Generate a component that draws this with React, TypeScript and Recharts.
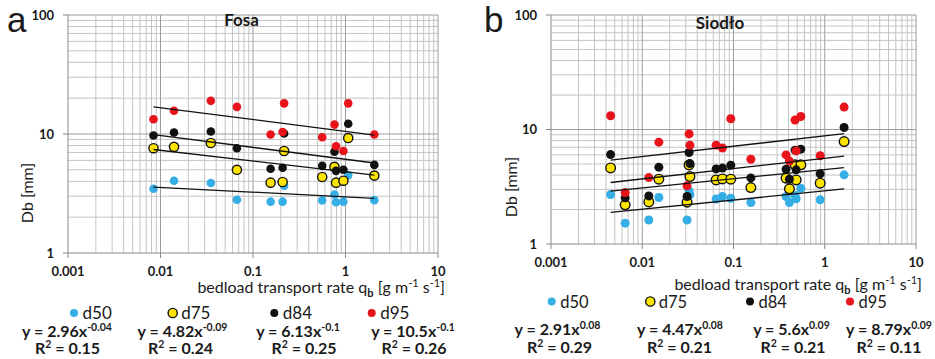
import { ScatterChart, Scatter, XAxis, YAxis, CartesianGrid } from 'recharts'

// grain size percentiles, one array per percentile, indexed by sample
const seriesNames = ['d50', 'd75', 'd84', 'd95']

// Fosa: bedload transport rate qb [g m-1 s-1] and Db [mm]
const fosaQb = [0.0084, 0.014, 0.035, 0.067, 0.155, 0.209, 0.217, 0.56, 0.76, 0.79, 0.95, 1.07, 2.05]
const fosaD50 = [3.47, 4.05, 3.87, 2.8, 2.7, 2.7, 3.68, 2.77, 3.1, 2.67, 2.7, 4.5, 2.78]
const fosaD75 = [7.6, 7.8, 8.4, 5.0, 3.9, 3.95, 7.2, 4.35, 5.3, 3.9, 4.05, 9.25, 4.47]
const fosaD84 = [9.7, 10.3, 10.5, 7.6, 5.1, 5.2, 10.1, 5.4, 7.1, 4.9, 5.0, 12.2, 5.5]
const fosaD95 = [13.3, 15.7, 19.0, 16.9, 9.9, 10.4, 18.1, 9.4, 12.0, 7.9, 7.2, 18.1, 9.9]
const fosaCoef = [2.96, 4.82, 6.13, 10.5]
const fosaExp = [-0.04, -0.09, -0.1, -0.1]
const fosaR2 = [0.15, 0.24, 0.25, 0.26]

// Siodło
const siodloQb = [0.0045, 0.0065, 0.0118, 0.0152, 0.031, 0.0326, 0.0333, 0.0645, 0.0756, 0.0934, 0.155, 0.377, 0.41, 0.473, 0.486, 0.547, 0.891, 1.63]
const siodloD50 = [2.7, 1.52, 1.62, 2.55, 1.62, 2.9, 2.69, 2.47, 2.6, 2.51, 2.3, 2.6, 2.3, 2.65, 2.48, 3.07, 2.43, 4.02]
const siodloD75 = [4.62, 2.2, 2.33, 3.68, 2.32, 4.9, 3.88, 3.63, 3.7, 3.68, 3.11, 3.76, 3.03, 4.91, 3.63, 4.91, 3.4, 7.84]
const siodloD84 = [6.04, 2.53, 2.63, 4.69, 2.6, 6.29, 5.04, 4.53, 4.6, 4.88, 3.78, 4.5, 3.68, 6.6, 4.44, 6.73, 4.1, 10.4]
const siodloD95 = [13.2, 2.81, 3.8, 7.75, 3.22, 9.15, 7.3, 7.3, 6.9, 12.4, 5.5, 6.0, 5.3, 12.1, 6.5, 13.0, 5.9, 15.7]
const siodloCoef = [2.91, 4.47, 5.6, 8.79]
const siodloExp = [0.08, 0.08, 0.09, 0.09]
const siodloR2 = [0.29, 0.21, 0.21, 0.11]

// log axes
const xTicks = [0.001, 0.01, 0.1, 1, 10]
const yTicks = [1, 10, 100]
const minorSteps = [2, 3, 4, 5, 6, 7, 8, 9]

const minorOf = (decades: number[]) =>
  decades.slice(0, -1).flatMap((d) => minorSteps.map((k) => +(d * k).toPrecision(3)))

const FONT = 'Lato, "Noto Sans", sans-serif'

const markerStyles = [
  { fill: '#35aee6', stroke: 'none', sw: 0 },
  { fill: '#ffe400', stroke: '#111', sw: 1.4 },
  { fill: '#111111', stroke: 'none', sw: 0 },
  { fill: '#e8141b', stroke: 'none', sw: 0 },
]

type Layout = {
  left: number
  width: number
  margin: { top: number; right: number; bottom: number; left: number }
  r: number
  letter: [number, number]
  title: [number, number]
  yLabel: [number, number]
  xLabel: [number, number]
  legendY: number
  legendX: number[]
  legendFont: number
  eqY: number
  eqX: number[]
  r2Y: number
  r2X: number[]
}

type PanelProps = {
  letter: string
  title: string
  qb: number[]
  values: number[][]
  coef: number[]
  exp: number[]
  r2: number[]
  layout: Layout
}

const tickStyle = { fontSize: 13, fontWeight: 700, fill: '#1a1a1a', fontFamily: FONT }

function Panel({ letter, title, qb, values, coef, exp, r2, layout }: PanelProps) {
  const lo = Math.min(...qb)
  const hi = Math.max(...qb)
  const L = layout
  return (
    <div style={{ position: 'absolute', left: L.left, top: 0, width: L.width, height: 359 }}>
      <ScatterChart width={L.width} height={300} margin={L.margin}>
        <CartesianGrid verticalValues={minorOf(xTicks)} horizontalValues={minorOf(yTicks)} stroke="#c4c4c4" />
        <CartesianGrid verticalValues={xTicks.slice(1)} horizontalValues={yTicks.slice(1)} stroke="#9c9c9c" />
        <XAxis
          type="number"
          dataKey="x"
          scale="log"
          domain={[0.001, 10]}
          ticks={xTicks}
          interval={0}
          allowDataOverflow
          height={30}
          tickSize={5}
          tickMargin={9}
          stroke="#8a8a8a"
          tick={tickStyle}
        />
        <YAxis
          type="number"
          dataKey="y"
          scale="log"
          domain={[1, 100]}
          ticks={yTicks}
          interval={0}
          allowDataOverflow
          width={60}
          tickSize={5}
          tickMargin={9}
          stroke="#8a8a8a"
          tick={tickStyle}
        />
        {values.map((vals, s) => {
          const st = markerStyles[s]
          const r = s === 1 ? L.r + 0.3 : L.r
          return (
            <Scatter
              key={seriesNames[s]}
              name={seriesNames[s]}
              data={qb.map((x, i) => ({ x, y: vals[i] }))}
              isAnimationActive={false}
              shape={(p: any) => (
                <circle cx={p.cx} cy={p.cy} r={r} fill={st.fill} stroke={st.stroke} strokeWidth={st.sw} />
              )}
            />
          )
        })}
        {coef.map((a, s) => (
          <Scatter
            key={'fit' + s}
            data={[lo, hi].map((x) => ({ x, y: a * Math.pow(x, exp[s]) }))}
            isAnimationActive={false}
            line={{ stroke: '#111', strokeWidth: 1.3 }}
            shape={() => <g />}
          />
        ))}
      </ScatterChart>
      <svg
        width={L.width}
        height={359}
        style={{ position: 'absolute', left: 0, top: 0, pointerEvents: 'none' }}
        fontFamily={FONT}
        fill="#1a1a1a"
      >
        <text x={L.letter[0]} y={L.letter[1]} fontSize={35} fontFamily='"Liberation Sans", Arial, sans-serif'>
          {letter}
        </text>
        <text x={L.title[0]} y={L.title[1]} fontSize={17} fontWeight={700} textAnchor="middle">
          {title}
        </text>
        <text
          transform={`translate(${L.yLabel[0]},${L.yLabel[1]}) rotate(-90)`}
          fontSize={16}
          textAnchor="middle"
        >
          Db [mm]
        </text>
        <text x={L.xLabel[0]} y={L.xLabel[1]} fontSize={16} textAnchor="end">
          bedload transport rate q
          <tspan fontSize={11} fontWeight={700} dy={4}>b</tspan>
          <tspan dy={-4}> [g m</tspan>
          <tspan fontSize={11} dy={-6}>-1</tspan>
          <tspan dy={6}> s</tspan>
          <tspan fontSize={11} dy={-6}>-1</tspan>
          <tspan dy={6}>]</tspan>
        </text>
        {seriesNames.map((n, s) => {
          const st = markerStyles[s]
          const cx = L.legendX[s]
          return (
            <g key={n}>
              <circle
                cx={cx}
                cy={L.legendY - 6}
                r={s === 1 ? 4.6 : 4}
                fill={st.fill}
                stroke={st.stroke}
                strokeWidth={st.sw}
              />
              <text x={cx + 8.5} y={L.legendY} fontSize={L.legendFont}>
                {n}
              </text>
              <text x={L.eqX[s]} y={L.eqY} fontSize={16} fontWeight={700} textAnchor="middle">
                y = {coef[s]}x
                <tspan fontSize={10.5} dy={-6}>{exp[s]}</tspan>
              </text>
              <text x={L.r2X[s]} y={L.r2Y} fontSize={16} fontWeight={700} textAnchor="middle">
                R<tspan fontSize={10.5} dy={-6}>2</tspan>
                <tspan dy={6}> = {r2[s]}</tspan>
              </text>
            </g>
          )
        })}
      </svg>
    </div>
  )
}

const fosaLayout: Layout = {
  left: 0,
  width: 470,
  margin: { top: 15, right: 32, bottom: 17, left: 8 },
  r: 4.3,
  letter: [7, 32],
  title: [241.5, 26],
  yLabel: [33, 193],
  xLabel: [445, 293],
  legendY: 319,
  legendX: [74, 172.7, 274.3, 371.7],
  legendFont: 17,
  eqY: 337,
  eqX: [67, 182.5, 298, 413],
  r2Y: 354,
  r2X: [67.5, 180.5, 304, 414],
}

const siodloLayout: Layout = {
  left: 465,
  width: 470,
  margin: { top: 15, right: 19, bottom: 26, left: 26 },
  r: 4.5,
  letter: [19, 32],
  title: [255, 29],
  yLabel: [52, 187],
  xLabel: [457, 290],
  legendY: 307.5,
  legendX: [86.7, 185.3, 285, 385],
  legendFont: 16.5,
  eqY: 334.5,
  eqX: [92.5, 215, 326.5, 424],
  r2Y: 353,
  r2X: [94.5, 214.5, 328, 424],
}

export default function App() {
  return (
    <div style={{ position: 'absolute', left: 0, top: 0, width: 935, height: 359, background: '#fff' }}>
      <Panel
        letter="a"
        title="Fosa"
        qb={fosaQb}
        values={[fosaD50, fosaD75, fosaD84, fosaD95]}
        coef={fosaCoef}
        exp={fosaExp}
        r2={fosaR2}
        layout={fosaLayout}
      />
      <Panel
        letter="b"
        title="Siodło"
        qb={siodloQb}
        values={[siodloD50, siodloD75, siodloD84, siodloD95]}
        coef={siodloCoef}
        exp={siodloExp}
        r2={siodloR2}
        layout={siodloLayout}
      />
    </div>
  )
}
